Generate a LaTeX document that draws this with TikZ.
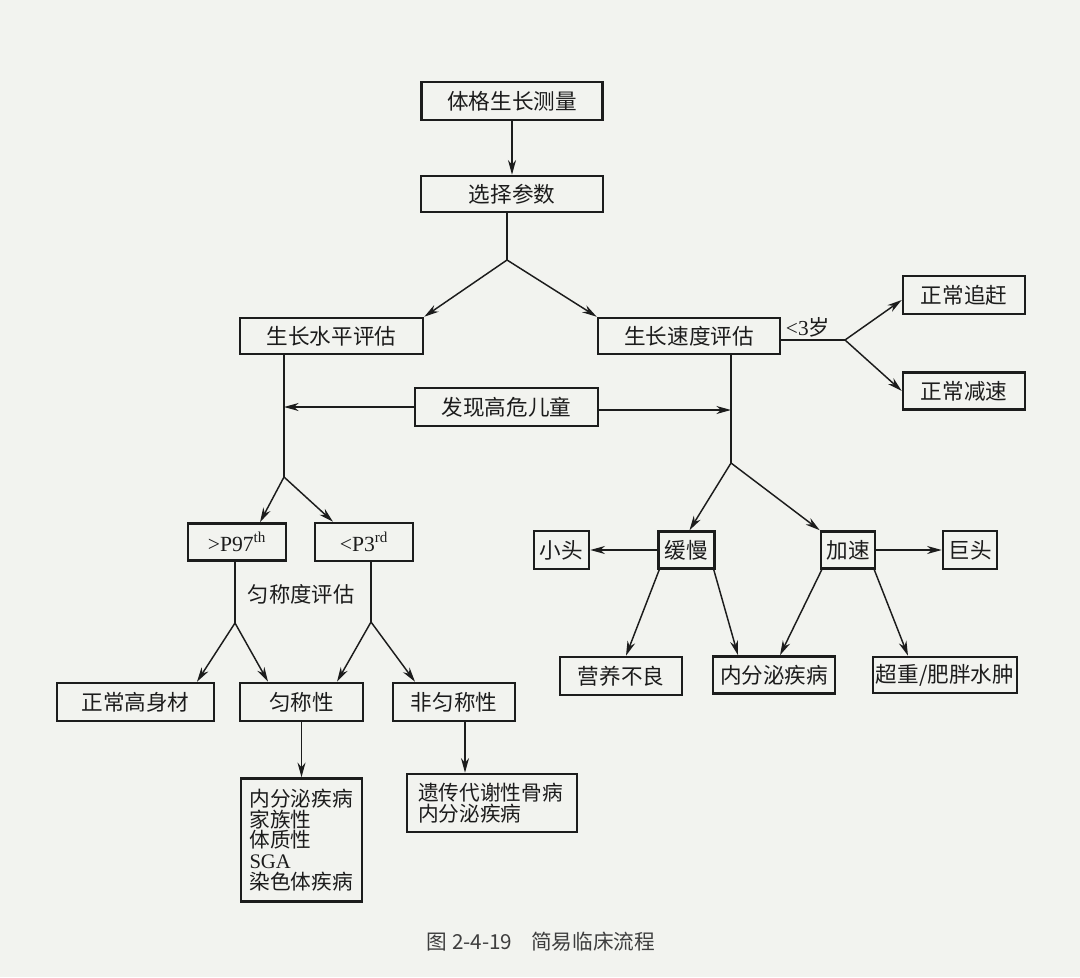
\documentclass[tikz,border=0pt]{standalone}
\usepackage{fontspec}
\setmainfont{Liberation Serif}
\newfontfamily\cjk{Noto Sans CJK SC}
\usetikzlibrary{arrows.meta,calc}
\definecolor{bg}{RGB}{242,243,239}
\definecolor{ink}{RGB}{28,28,28}
\tikzset{
  sz/.style 2 args={minimum width=#1*0.75pt, minimum height=#2*0.75pt},
  box/.style={draw=ink, line width=1.9pt, inner sep=0pt, text=ink,
    font=\cjk\fontsize{16.2}{16}\selectfont},
  listbox/.style={box, align=left, font=\cjk\fontsize{15.5}{15.6}\selectfont},
  lbl/.style={inner sep=0pt, text=ink, font=\cjk\fontsize{16}{16}\selectfont},
  ln/.style={draw=ink, line width=1.1pt},
  arr/.style={ln, -{Stealth[length=11pt,width=6pt,inset=3.5pt]}},
}
\begin{document}
\begin{tikzpicture}[x=0.75pt,y=-0.75pt]
\fill[bg] (0,0) rectangle (1080,977);
\useasboundingbox (0,0) rectangle (1080,977);

% nodes
\node[box,sz={181}{38}] (top) at (512,101) {体格生长测量};
\node[box,sz={182}{36}] (sel) at (512,194) {选择参数};
\node[box,sz={183}{36}] (lv) at (331.5,336) {生长水平评估};
\node[box,sz={182}{36}] (sv) at (689,336) {生长速度评估};
\node[box,sz={122}{38}] (cz) at (964,295) {正常追赶};
\node[box,sz={122}{37}] (cs) at (964,391) {正常减速};
\node[lbl] (age) at (808,327) {{\rmfamily <3}岁};
\node[box,sz={183}{38}] (fx) at (506.5,407) {发现高危儿童};
\node[box,sz={98}{37}] (p97) at (237,542) {{\rmfamily >P97\textsuperscript{th}}};
\node[box,sz={98}{38}] (p3) at (364,542) {{\rmfamily <P3\textsuperscript{rd}}};
\node[lbl] (yd) at (301,594) {匀称度评估};
\node[box,sz={157}{38}] (zg) at (135.5,702) {正常高身材};
\node[box,sz={123}{38}] (yc) at (301.5,702) {匀称性};
\node[box,sz={122}{38}] (fyc) at (454,702) {非匀称性};
\node[listbox,sz={121}{123}, text width=78pt, inner xsep=6pt] (lst) at (301.5,840)
  {内分泌疾病\\家族性\\体质性\\{\rmfamily SGA}\\染色体疾病};
\node[listbox,sz={170}{58}, text width=111pt, inner xsep=8pt] (gen) at (492,803)
  {遗传代谢性骨病\\内分泌疾病};
\node[box,sz={56}{37}] (hm) at (686.5,550) {缓慢};
\node[box,sz={55}{38}] (xt) at (561.5,550) {小头};
\node[box,sz={54}{37}] (js) at (848,550) {加速};
\node[box,sz={54}{38}] (jt) at (970,550) {巨头};
\node[box,sz={122}{38}] (yy) at (621,676) {营养不良};
\node[box,sz={122}{37}] (nf) at (774,675) {内分泌疾病};
\node[box,sz={144}{36}] (cz2) at (945,675) {超重/肥胖水肿};

\node[inner sep=0pt, text=ink!85, font=\cjk\fontsize{15.5}{16}\selectfont] (cap) at (541,942)
  {图 2-4-19\hspace{14pt}简易临床流程};

% connectors
\draw[arr] (top.south) -- (sel.north);
\coordinate (j1) at (507,260);
\draw[ln] ($(sel.south)+(-5,0)$) -- (j1);
\draw[arr] (j1) -- (lv.north east);
\draw[arr] (j1) -- (sv.north west);

\coordinate (j2) at (845,340);
\draw[ln] ($(sv.east)+(0,4)$) -- (j2);
\draw[arr] (j2) -- ($(cz.west)+(0,5)$);
\draw[arr] (j2) -- (cs.west);

\coordinate (lvb) at ($(lv.south)+(-47.5,0)$);
\coordinate (j3) at (284,477);
\draw[ln] (lvb) -- (j3);
\coordinate (svb) at ($(sv.south)+(42,0)$);
\coordinate (j4) at (731,463);
\draw[ln] (svb) -- (j4);

\draw[arr] (fx.west) -- (fx.west -| lvb);
\draw[arr] ($(fx.east)+(0,3)$) coordinate (fe) -- (fe -| svb);

\draw[arr] (j3) -- ($(p97.north)+(23,0)$);
\draw[arr] (j3) -- ($(p3.north)+(-31,0)$);

\coordinate (j5) at (235,623);
\draw[ln] ($(p97.south)+(-2,0)$) -- (j5);
\draw[arr] (j5) -- ($(zg.north)+(61.5,0)$);
\draw[arr] (j5) -- ($(yc.north)+(-33.5,0)$);

\coordinate (j6) at (371,622);
\draw[ln] ($(p3.south)+(7,0)$) -- (j6);
\draw[arr] (j6) -- ($(yc.north)+(35.5,0)$);
\draw[arr] (j6) -- ($(fyc.north)+(-39,0)$);

\draw[arr] (yc.south) -- (lst.north);
\draw[arr] ($(fyc.south)+(11,0)$) coordinate (fq) -- (fq |- gen.north);

\draw[arr] (j4) -- ($(hm.north)+(3,0)$);
\draw[arr] (j4) -- (js.north west);
\draw[arr] (hm.west) -- (xt.east);
\draw[arr] (js.east) -- (jt.west);
\draw[arr] ($(hm.south west)+(2,0)$) -- ($(yy.north)+(5,0)$);
\draw[arr] ($(hm.south east)+(-2,0)$) -- ($(nf.north)+(-36,0)$);
\draw[arr] ($(js.south west)+(2,0)$) -- ($(nf.north)+(6,0)$);
\draw[arr] ($(js.south east)+(-2,0)$) -- ($(cz2.north)+(-37,0)$);
\end{tikzpicture}
\end{document}
